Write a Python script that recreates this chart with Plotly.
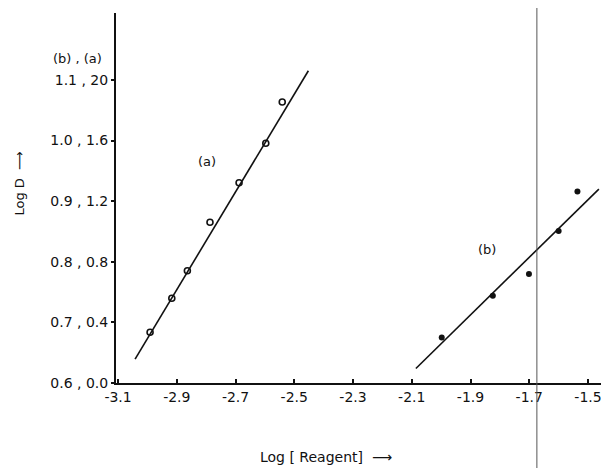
import plotly.graph_objects as go

# Series (a): open circles, left-hand (a) scale
a_x = [-2.991, -2.917, -2.864, -2.787, -2.688, -2.597, -2.541]
a_y = [0.335, 0.559, 0.741, 1.061, 1.322, 1.582, 1.855]
a_fit_x = [-3.042, -2.452]
a_fit_y = [0.158, 2.061]

# Series (b): filled dots, (b) scale
b_x = [-1.998, -1.824, -1.701, -1.600, -1.536]
b_y = [0.675, 0.744, 0.780, 0.851, 0.916]
b_fit_x = [-2.086, -1.463]
b_fit_y = [0.624, 0.920]

x_ticks = [-3.1, -2.9, -2.7, -2.5, -2.3, -2.1, -1.9, -1.7, -1.5]
x_tick_labels = ["-3.1", "-2.9", "-2.7", "-2.5", "-2.3", "-2.1", "-1.9", "-1.7", "-1.5"]
y_ticks = [0.0, 0.4, 0.8, 1.2, 1.6, 2.0]
y_tick_labels = ["0.6 , 0.0", "0.7 , 0.4", "0.8 , 0.8", "0.9 , 1.2", "1.0 , 1.6", "1.1 , 20"]

vline_x = -1.674

FONT = "DejaVu Sans"
INK = "#111111"

fig = go.Figure()
fig.add_trace(go.Scatter(x=a_fit_x, y=a_fit_y, mode="lines",
                         line=dict(color=INK, width=1.6), showlegend=False))
fig.add_trace(go.Scatter(x=a_x, y=a_y, mode="markers",
                         marker=dict(symbol="circle-open", size=6, color=INK,
                                     line=dict(width=1.6)), showlegend=False))
fig.add_trace(go.Scatter(x=b_fit_x, y=b_fit_y, mode="lines", yaxis="y2",
                         line=dict(color=INK, width=1.6), showlegend=False))
fig.add_trace(go.Scatter(x=b_x, y=b_y, mode="markers", yaxis="y2",
                         marker=dict(symbol="circle", size=6, color=INK),
                         showlegend=False))

fig.add_shape(type="line", xref="x", yref="paper", x0=vline_x, x1=vline_x,
              y0=-0.25, y1=1.05, line=dict(color="#555555", width=1))

fig.add_annotation(x=-2.798, y=1.461, text="(a)", showarrow=False,
                   xanchor="center", yanchor="middle",
                   font=dict(family=FONT, size=13, color=INK))
fig.add_annotation(x=-1.844, y=0.884, text="(b)", showarrow=False,
                   xanchor="center", yanchor="middle",
                   font=dict(family=FONT, size=13, color=INK))
fig.add_annotation(xref="paper", yref="paper", x=-0.079, y=0.878,
                   text="(b) , (a)", showarrow=False,
                   xanchor="center", yanchor="middle",
                   font=dict(family=FONT, size=13, color=INK))
fig.add_annotation(xref="paper", yref="paper", x=-0.196, y=0.54,
                   text="Log D  \u27f6", textangle=-90, showarrow=False,
                   xanchor="center", yanchor="middle",
                   font=dict(family=FONT, size=13, color=INK))
fig.add_annotation(xref="paper", yref="paper", x=0.426, y=-0.2,
                   text="Log [ Reagent]  \u27f6", showarrow=False,
                   xanchor="center", yanchor="middle",
                   font=dict(family=FONT, size=14, color=INK))

fig.update_layout(
    width=601, height=460,
    margin=dict(l=108, r=0, t=5, b=85),
    paper_bgcolor="white", plot_bgcolor="white",
    font=dict(family=FONT, size=13, color=INK),
    xaxis=dict(range=[-3.107, -1.4285], tickvals=x_ticks, ticktext=x_tick_labels,
               showgrid=False, zeroline=False, showline=True, linecolor=INK,
               linewidth=2, ticks="inside", ticklen=4, tickcolor=INK,
               tickwidth=1.5, tickfont=dict(size=14)),
    yaxis=dict(range=[0, 2.442], tickvals=y_ticks, ticktext=y_tick_labels,
               showgrid=False, zeroline=False, showline=True, linecolor=INK,
               linewidth=2, ticks="outside", ticklen=3, tickcolor=INK,
               tickwidth=1.5, tickfont=dict(size=14)),
    yaxis2=dict(range=[0.6, 0.6 + 2.442 / 4], overlaying="y", visible=False),
)

fig.write_html("out.html")
